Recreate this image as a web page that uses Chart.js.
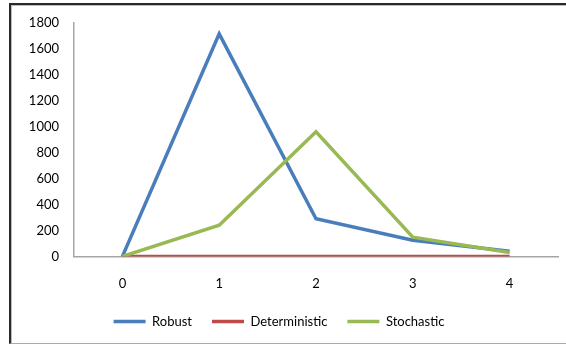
<!DOCTYPE html>
<html>
<head>
<meta charset="utf-8">
<script src="https://cdn.jsdelivr.net/npm/chart.js@4"></script>
<style>
  html, body { margin: 0; padding: 0; background: #fff; }
  body { width: 566px; height: 344px; position: relative; overflow: hidden; }
  #frame {
    position: absolute; left: 9px; top: 3px; width: 600px; height: 338px;
    border-top: 2px solid #2a2a2a; border-left: 2px solid #2a2a2a; border-bottom: 1px solid #aaa;
    box-shadow: inset 1px 1px 0 #bbb;
  }
  #wrap { position: absolute; left: 0; top: 0; width: 566px; height: 344px; }
</style>
</head>
<body>
<div id="frame"></div>
<div id="wrap"><canvas id="c" width="566" height="344"></canvas></div>
<script>
const categories = ['0', '1', '2', '3', '4'];
const robust = [0, 1715, 290, 125, 40];
const deterministic = [0, 0, 0, 0, 0];
const stochastic = [0, 240, 960, 148, 30];
const yTicks = [0, 200, 400, 600, 800, 1000, 1200, 1400, 1600, 1800];

const font = { family: 'Lato, "Open Sans", sans-serif', size: 13 };

new Chart(document.getElementById('c'), {
  type: 'line',
  data: {
    labels: categories,
    datasets: [
      { label: 'Robust', data: robust, borderColor: '#4a7ebb', backgroundColor: '#4a7ebb', order: 2 },
      { label: 'Deterministic', data: deterministic, borderColor: '#be4b48', backgroundColor: '#be4b48', order: 1 },
      { label: 'Stochastic', data: stochastic, borderColor: '#98b954', backgroundColor: '#98b954', order: 0 }
    ].map(d => Object.assign(d, { borderWidth: 3.5, pointRadius: 0, tension: 0, fill: false }))
  },
  options: {
    responsive: false,
    animation: false,
    layout: { padding: { left: 0, right: 8, top: 17, bottom: 6 } },
    scales: {
      x: {
        offset: true,
        afterFit: s => { s.height -= 17; },
        grid: { display: false, drawTicks: false },
        border: { display: true, color: '#a6a6a6', width: 1.5 },
        ticks: { color: '#000', font, padding: 20 }
      },
      y: {
        min: 0, max: 1800,
        afterBuildTicks: s => { s.ticks = yTicks.map(v => ({ value: v })); },
        afterFit: s => { s.width = 74; },
        grid: { display: false, drawTicks: false },
        border: { display: true, color: '#a6a6a6', width: 1.5 },
        ticks: { color: '#000', font, padding: 15, callback: v => String(v) }
      }
    },
    plugins: {
      tooltip: { enabled: false },
      legend: {
        position: 'bottom',
        labels: {
          color: '#000', font,
          usePointStyle: true, pointStyle: 'line', pointStyleWidth: 32,
          boxHeight: 13, padding: 20,
          sort: (a, b) => a.datasetIndex - b.datasetIndex
        }
      }
    }
  }
});
</script>
</body>
</html>
